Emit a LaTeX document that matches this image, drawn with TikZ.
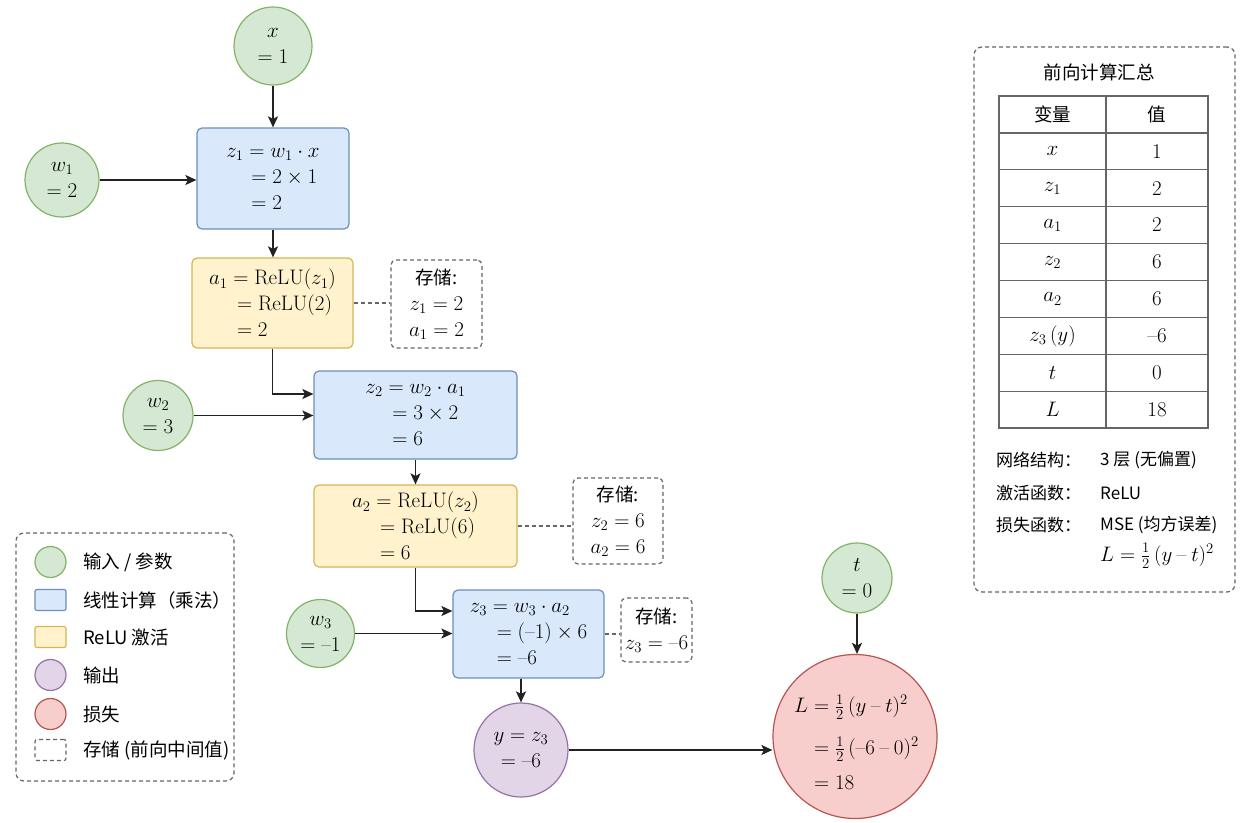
\RequirePackage{fix-cm}
\documentclass[tikz,border=0pt]{standalone}
\usepackage{fontspec}
\newfontfamily\cjk{Noto Sans CJK SC}
\usetikzlibrary{arrows.meta}
\definecolor{gF}{HTML}{D5E8D4}\definecolor{gD}{HTML}{82B366}
\definecolor{bF}{HTML}{DAE8FC}\definecolor{bD}{HTML}{6C8EBF}
\definecolor{yF}{HTML}{FFF2CC}\definecolor{yD}{HTML}{D6B656}
\definecolor{pF}{HTML}{E1D5E7}\definecolor{pD}{HTML}{9673A6}
\definecolor{rF}{HTML}{F8CECC}\definecolor{rD}{HTML}{B85450}
\definecolor{dashc}{HTML}{666666}
\definecolor{arrc}{HTML}{222222}
\newcommand{\mfont}{\fontsize{21}{26}\selectfont}
\newcommand{\cfont}{\cjk\fontsize{18.5}{26}\selectfont}
\newcommand{\sfont}{\cjk\fontsize{17}{24}\selectfont}
\newcommand{\mn}{\mathord{\hbox{--}}}
\newcommand{\mb}{\mathbin{\hbox{--}}}
\tikzset{
  inp/.style={circle, draw=gD, fill=gF, line width=1.2pt, inner sep=0pt, align=center, font=\mfont},
  outc/.style={circle, draw=pD, fill=pF, line width=1.2pt, inner sep=0pt, align=center, font=\mfont},
  lossc/.style={circle, draw=rD, fill=rF, line width=1.2pt, inner sep=0pt, align=left, font=\mfont},
  lin/.style={rectangle, rounded corners=5pt, draw=bD, fill=bF, line width=1.2pt, inner sep=0pt, align=left, font=\mfont},
  act/.style={rectangle, rounded corners=5pt, draw=yD, fill=yF, line width=1.2pt, inner sep=0pt, align=left, font=\mfont},
  store/.style={rectangle, rounded corners=5pt, draw=dashc, line width=1.2pt, dash pattern=on 4pt off 3pt, inner sep=0pt, align=center, font=\mfont},
  arr/.style={draw=arrc, line width=1.5pt, -{Stealth[length=11pt,width=10pt,inset=2.5pt]}},
  link/.style={draw=dashc, line width=1.2pt, dash pattern=on 4pt off 3pt},
  lgtext/.style={anchor=west, font=\cfont, inner sep=0pt},
  cell/.style={font=\mfont, inner sep=0pt}
}
\begin{document}
\begin{tikzpicture}[x=1pt,y=-1pt]
\useasboundingbox (0,0) rectangle (1244,822);
\fill[white] (0,0) rectangle (1244,822);

% ---- main graph ----
\node[inp, minimum size=78pt] (x) at (273,46) {$x$\\$=1$};
\node[inp, minimum size=74pt] (w1) at (62,180) {$w_1$\\$=2$};
\node[lin, minimum width=152pt, minimum height=101pt] (z1) at (273,178.5)
  {$z_1 = w_1\cdot x$\\\hspace*{25pt}$= 2\times 1$\\\hspace*{25pt}$= 2$};
\node[act, minimum width=161pt, minimum height=90pt] (a1) at (272.5,303)
  {$a_1 = \mathrm{ReLU}(z_1)$\\\hspace*{28pt}$= \mathrm{ReLU}(2)$\\\hspace*{28pt}$= 2$};
\node[store, minimum width=91pt, minimum height=88pt] (s1) at (436.5,304)
  {{\cfont 存储:}\\$z_1 = 2$\\$a_1 = 2$};

\node[inp, minimum size=70pt] (w2) at (158,415.5) {$w_2$\\$=3$};
\node[lin, minimum width=203pt, minimum height=88pt] (z2) at (415.5,415)
  {$z_2 = w_2\cdot a_1$\\\hspace*{27pt}$= 3\times 2$\\\hspace*{27pt}$= 6$};
\node[act, minimum width=203pt, minimum height=82pt] (a2) at (415.5,526)
  {$a_2 = \mathrm{ReLU}(z_2)$\\\hspace*{28pt}$= \mathrm{ReLU}(6)$\\\hspace*{28pt}$= 6$};
\node[store, minimum width=90pt, minimum height=86pt] (s2) at (618,521)
  {{\cfont 存储:}\\$z_2 = 6$\\$a_2 = 6$};

\node[inp, minimum size=68pt] (w3) at (320.5,633.5) {$w_3$\\$=\mn 1$};
\node[lin, minimum width=151pt, minimum height=88pt] (z3) at (528.5,634)
  {$z_3 = w_3\cdot a_2$\\\hspace*{27pt}$= (\mn 1)\times 6$\\\hspace*{27pt}$= \mn 6$};
\node[store, minimum width=71pt, minimum height=64pt] (s3) at (656.5,630)
  {{\cfont 存储:}\\$z_3 = \mn 6$};

\node[outc, minimum size=94pt] (y) at (521,750) {$y = z_3$\\$= \mn 6$};
\node[inp, minimum size=70pt] (t) at (857,578) {$t$\\$= 0$};
\node[lossc, minimum size=164pt] (L) at (855,736.5) {};
\node[anchor=west, align=left, font=\mfont, inner sep=0pt] (Ltext) at (794,742)
  {$L = \frac{1}{2}\,(y\mb t)^2$\\[16pt]\hspace*{20pt}$= \frac{1}{2}\,(\mn 6\mb 0)^2$\\[9pt]\hspace*{20pt}$= 18$};

% connectors
\draw[arr] (x) -- (x |- z1.north);
\draw[arr] (w1.east) -- (w1.east -| z1.west);
\draw[arr] (z1.south) -- (z1.south |- a1.north);
\draw[arr] (a1.south) |- ([yshift=21pt]z2.west);
\draw[arr] (w2.east) -- (w2.east -| z2.west);
\draw[arr] (z2.south) -- (z2.south |- a2.north);
\draw[arr] (a2.south) |- ([yshift=23pt]z3.west);
\draw[arr] (w3.east) -- (w3.east -| z3.west);
\draw[arr] (y.north |- z3.south) -- (y.north);
\draw[arr] (y.east) -- (y.east -| L.west);
\draw[arr] (t.south) -- (t.south |- L.north);
\draw[link] (a1.east) -- (a1.east -| s1.west);
\draw[link] (a2.east) -- (a2.east -| s2.west);
\draw[link] (z3.east) -- (z3.east -| s3.west);

% ---- legend ----
\node[store, rounded corners=8pt, minimum width=218pt, minimum height=248pt] (leg) at (125,657) {};
\node[inp, minimum size=31pt] (lg1) at (50.5,562) {};
\node[lin, minimum width=31pt, minimum height=21pt, rounded corners=2pt] (lg2) at (50.5,600) {};
\node[act, minimum width=31pt, minimum height=21pt, rounded corners=2pt] (lg3) at (50.5,637) {};
\node[outc, minimum size=31pt] (lg4) at (50.5,675) {};
\node[lossc, minimum size=31pt] (lg5) at (50.5,714) {};
\node[store, minimum width=31pt, minimum height=21pt, rounded corners=2pt] (lg6) at (50.5,750) {};
\node[lgtext] (lt1) at (83,562) {输入 / 参数};
\node[lgtext] (lt2) at (83,600) {线性计算（乘法）};
\node[lgtext] (lt3) at (83,637) {ReLU 激活};
\node[lgtext] (lt4) at (83,675) {输出};
\node[lgtext] (lt5) at (83,714) {损失};
\node[lgtext] (lt6) at (83,750) {存储 (前向中间值)};

% ---- summary ----
\node[store, rounded corners=8pt, minimum width=261pt, minimum height=545pt] (sum) at (1104.5,319.5) {};
\node[font=\cfont] (sumtitle) at (1099,72) {前向计算汇总};
\draw[dashc, line width=1.3pt] (999,96) rectangle (1208,428);
\draw[dashc, line width=1.3pt] (1106,96) -- (1106,428);
\foreach \k in {1,...,8} { \draw[dashc, line width=1.3pt] (999,96+36.9*\k) -- (1208,96+36.9*\k); }
\foreach \k/\a/\b in {0/{\cfont 变量}/{\cfont 值},
  1/$x$/$1$, 2/$z_1$/$2$, 3/$a_1$/$2$, 4/$z_2$/$6$, 5/$a_2$/$6$,
  6/{$z_3\,(y)$}/{$\mn 6$}, 7/$t$/$0$, 8/$L$/$18$} {
  \node[cell] (ca\k) at (1052.5,114.5+36.9*\k) {\a};
  \node[cell] (cb\k) at (1157,114.5+36.9*\k) {\b};
}
\node[anchor=west, font=\sfont, inner sep=0pt] (i1) at (996,460) {网络结构：};
\node[anchor=west, font=\sfont, inner sep=0pt] (v1) at (1100,460) {3 层 (无偏置)};
\node[anchor=west, font=\sfont, inner sep=0pt] (i2) at (996,493) {激活函数：};
\node[anchor=west, font=\sfont, inner sep=0pt] (v2) at (1100,493) {ReLU};
\node[anchor=west, font=\sfont, inner sep=0pt] (i3) at (996,525) {损失函数：};
\node[anchor=west, font=\sfont, inner sep=0pt] (v3) at (1100,525) {MSE (均方误差)};
\node[anchor=west, font=\mfont, inner sep=0pt] (v4) at (1100,556) {$L = \frac{1}{2}\,(y\mb t)^2$};
\end{tikzpicture}
\end{document}
